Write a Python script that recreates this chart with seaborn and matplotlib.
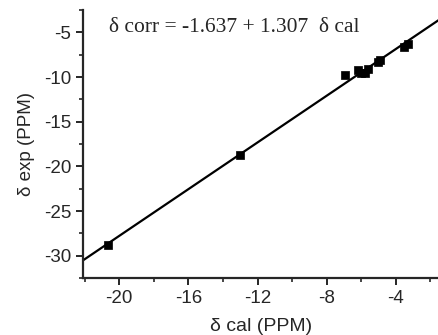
import numpy as np
import pandas as pd
import matplotlib.pyplot as plt
import seaborn as sns
from matplotlib.ticker import MultipleLocator

# data
cal_ppm = [-20.65, -13.0, -6.95, -6.2, -6.0, -5.8, -5.6, -5.05, -4.9, -3.5, -3.3]
exp_ppm = [-28.8, -18.7, -9.8, -9.2, -9.6, -9.5, -9.1, -8.3, -8.1, -6.6, -6.3]
intercept = -1.637
slope = 1.307
x_range = [-22.1, -1.5]

sns.set_style("ticks")
plt.rcParams['font.family'] = ['Liberation Sans', 'DejaVu Sans']
plt.rcParams['axes.linewidth'] = 1.6
plt.rcParams['axes.unicode_minus'] = False

df = pd.DataFrame({'cal': cal_ppm, 'exp': exp_ppm})
fit = pd.DataFrame({'cal': x_range})
fit['exp'] = intercept + slope * fit['cal']

fig = plt.figure(figsize=(4.39, 3.35), dpi=100)
ax = fig.add_axes([0.189, 0.170, 0.811, 0.800])

sns.lineplot(data=fit, x='cal', y='exp', color='black', linewidth=1.6, ax=ax)
sns.scatterplot(data=df, x='cal', y='exp', marker='s', s=28, color='black',
                edgecolor='black', linewidth=0.5, zorder=3, ax=ax)

ax.set_xlim(x_range)
ax.set_ylim(-32.5, -2.5)
ax.xaxis.set_major_locator(MultipleLocator(4))
ax.xaxis.set_minor_locator(MultipleLocator(2))
ax.yaxis.set_major_locator(MultipleLocator(5))
ax.yaxis.set_minor_locator(MultipleLocator(2.5))
ax.tick_params(which='major', length=5, width=1.4, labelsize=13.5, direction='out')
ax.tick_params(which='minor', length=3, width=1.2, direction='out')
sns.despine(ax=ax)

ax.set_xlabel('δ cal (PPM)', fontsize=14, labelpad=8)
ax.set_ylabel('δ exp (PPM)', fontsize=13.5, labelpad=6)

ax.text(0.072, 0.935, 'δ corr = -1.637 + 1.307  δ cal', transform=ax.transAxes,
        family=['Liberation Serif', 'DejaVu Serif'], fontsize=15.5,
        ha='left', va='center')

fig.savefig('out.png', dpi=100)
